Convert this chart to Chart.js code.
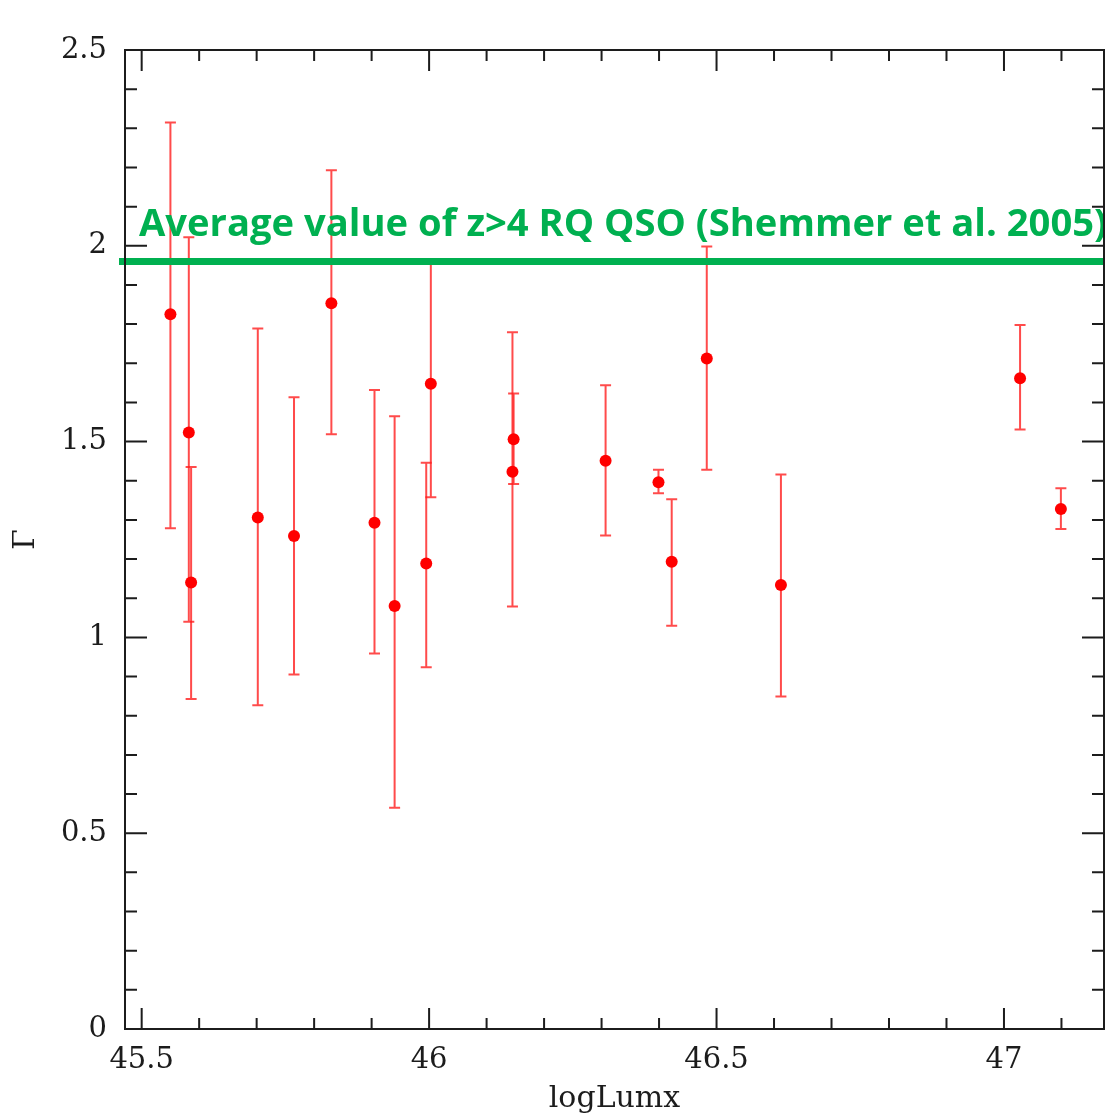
<!DOCTYPE html>
<html>
<head>
<meta charset="utf-8">
<script src="https://cdn.jsdelivr.net/npm/chart.js@4.4.1/dist/chart.umd.min.js"></script>
<style>
  html, body { margin: 0; padding: 0; background: #fff; }
  canvas { display: block; }
</style>
</head>
<body>
<canvas id="chart" width="1105" height="1119"></canvas>
<script>
// values
const logLumx   = [45.55, 45.582, 45.586, 45.702, 45.765, 45.830, 45.905, 45.940, 45.995, 46.003,
                   46.147, 46.145, 46.307, 46.399, 46.422, 46.483, 46.612, 47.028, 47.099];
const gamma     = [1.825, 1.523, 1.140, 1.306, 1.259, 1.853, 1.293, 1.080, 1.189, 1.648,
                   1.506, 1.423, 1.451, 1.396, 1.193, 1.712, 1.134, 1.662, 1.328];
const gammaLow  = [1.279, 1.040, 0.843, 0.827, 0.905, 1.519, 0.959, 0.565, 0.924, 1.358,
                   1.392, 1.079, 1.260, 1.368, 1.030, 1.428, 0.849, 1.531, 1.277];
const gammaHigh = [2.315, 2.022, 1.435, 1.789, 1.613, 2.193, 1.632, 1.565, 1.446, 1.960,
                   1.623, 1.779, 1.644, 1.428, 1.353, 1.998, 1.416, 1.798, 1.381];

const xTicks = [45.5, 46, 46.5, 47];
const xTickLabels = ["45.5", "46", "46.5", "47"];
const yTicks = [0, 0.5, 1, 1.5, 2, 2.5];
const yTickLabels = ["0", "0.5", "1", "1.5", "2", "2.5"];

const averageGamma = 1.96;
const averageLabel = "Average value of z>4 RQ QSO (Shemmer et al. 2005)";

const axisColor = "#1c1c1c";
const labelFont = { family: "'DejaVu Serif', serif", size: 29 };

// error bars go under the points
const errorBars = {
  id: "errorBars",
  beforeDatasetsDraw(chart) {
    const { ctx, scales: { x, y } } = chart;
    ctx.save();
    ctx.strokeStyle = "rgba(255, 30, 30, 0.8)";
    ctx.lineWidth = 2;
    logLumx.forEach((v, i) => {
      const px = x.getPixelForValue(v);
      const top = y.getPixelForValue(gammaHigh[i]);
      const bot = y.getPixelForValue(gammaLow[i]);
      ctx.beginPath();
      ctx.moveTo(px, top); ctx.lineTo(px, bot);
      ctx.moveTo(px - 5.5, top); ctx.lineTo(px + 5.5, top);
      ctx.moveTo(px - 5.5, bot); ctx.lineTo(px + 5.5, bot);
      ctx.stroke();
    });
    ctx.restore();
  }
};

// box frame with inward ticks on all four sides
const frame = {
  id: "frame",
  afterDraw(chart) {
    const { ctx, chartArea: a, scales: { x, y } } = chart;
    ctx.save();
    ctx.strokeStyle = axisColor;
    ctx.lineWidth = 2;
    ctx.strokeRect(a.left, a.top, a.right - a.left, a.bottom - a.top);
    ctx.beginPath();
    for (let v = 45.5; v <= x.max + 1e-9; v += 0.1) {
      const major = Math.abs(v * 2 - Math.round(v * 2)) < 1e-6;
      const len = major ? 21 : 11;
      const px = x.getPixelForValue(v);
      ctx.moveTo(px, a.bottom); ctx.lineTo(px, a.bottom - len);
      ctx.moveTo(px, a.top); ctx.lineTo(px, a.top + len);
    }
    for (let i = 1; i < 25; i++) {
      const v = i / 10;
      const len = i % 5 === 0 ? 22 : 12;
      const py = y.getPixelForValue(v);
      ctx.moveTo(a.left, py); ctx.lineTo(a.left + len, py);
      ctx.moveTo(a.right, py); ctx.lineTo(a.right - len, py);
    }
    ctx.stroke();
    ctx.restore();
  }
};

// reference line and its label, drawn over the data
const averageLine = {
  id: "averageLine",
  afterDatasetsDraw(chart) {
    const { ctx, chartArea: a, scales: { y } } = chart;
    const py = y.getPixelForValue(averageGamma);
    ctx.save();
    ctx.strokeStyle = "#00b050";
    ctx.lineWidth = 7;
    ctx.beginPath();
    ctx.moveTo(a.left - 6, py);
    ctx.lineTo(chart.width, py);
    ctx.stroke();

    ctx.fillStyle = "#00b050";
    ctx.font = "bold 37px 'Open Sans', sans-serif";
    ctx.textBaseline = "alphabetic";
    const x0 = a.left + 14;
    const w = ctx.measureText(averageLabel).width;
    const target = chart.width + 2 - x0;
    ctx.translate(x0, py - 25);
    ctx.scale(target / w, 1);
    ctx.fillText(averageLabel, 0, 0);
    ctx.restore();
  }
};

new Chart(document.getElementById("chart"), {
  type: "scatter",
  data: {
    datasets: [{
      label: "Gamma",
      data: logLumx.map((v, i) => ({ x: v, y: gamma[i] })),
      backgroundColor: "#ff0000",
      borderWidth: 0,
      pointRadius: 6,
      clip: false
    }]
  },
  options: {
    responsive: false,
    animation: false,
    layout: { autoPadding: false, padding: { top: 50, right: 1, left: 0, bottom: 0 } },
    plugins: { legend: { display: false }, tooltip: { enabled: false } },
    scales: {
      x: {
        type: "linear",
        min: 45.471,
        max: 47.174,
        afterBuildTicks: (s) => { s.ticks = xTicks.map(v => ({ value: v })); },
        afterFit: (s) => { s.height = 90; },
        grid: { display: false, drawTicks: false },
        border: { display: false },
        ticks: {
          padding: 14,
          color: axisColor,
          font: labelFont,
          maxRotation: 0,
          callback: (v) => xTickLabels[xTicks.indexOf(v)]
        },
        title: {
          display: true,
          text: "logLumx",
          color: axisColor,
          font: { family: "'DejaVu Serif', serif", size: 30 },
          padding: { top: 0, bottom: 2 }
        }
      },
      y: {
        type: "linear",
        min: 0,
        max: 2.5,
        afterBuildTicks: (s) => { s.ticks = yTicks.map(v => ({ value: v })); },
        afterFit: (s) => { s.width = 125; },
        grid: { display: false, drawTicks: false },
        border: { display: false },
        ticks: {
          padding: 18,
          color: axisColor,
          font: labelFont,
          callback: (v) => yTickLabels[yTicks.indexOf(v)]
        },
        title: {
          display: true,
          text: "Γ",
          color: axisColor,
          font: { family: "'DejaVu Serif', serif", size: 30 },
          padding: { top: 8, bottom: 0 }
        }
      }
    }
  },
  plugins: [errorBars, averageLine, frame]
});
</script>
</body>
</html>
